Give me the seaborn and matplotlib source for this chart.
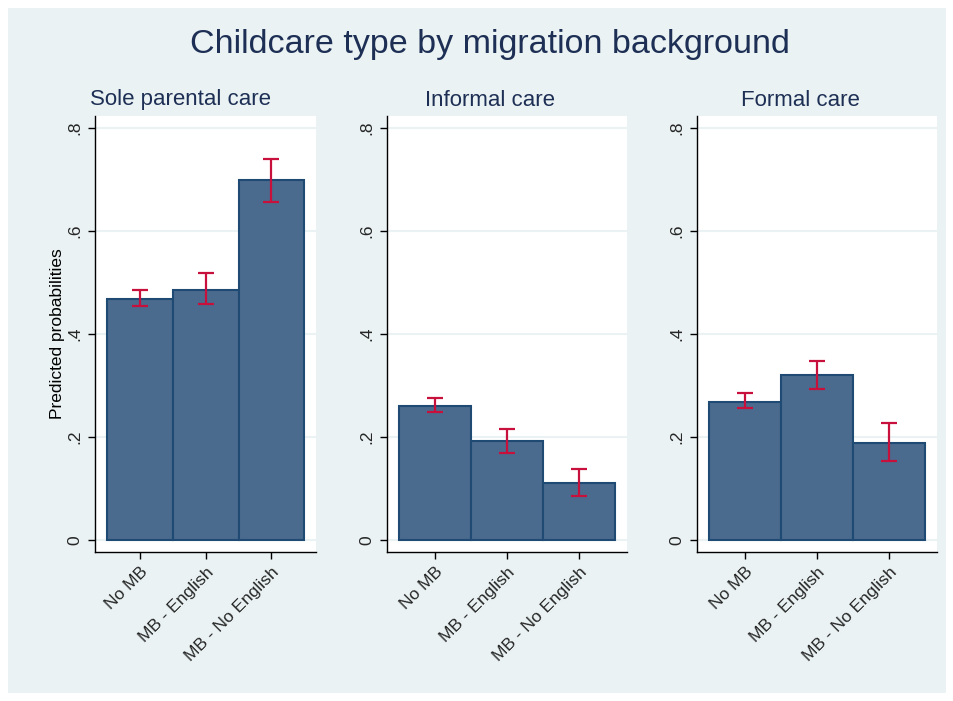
import matplotlib.pyplot as plt
import matplotlib.patches as mpatches
import seaborn as sns
import pandas as pd

# values
groups = ["No MB", "MB - English", "MB - No English"]
panels = ["Sole parental care", "Informal care", "Formal care"]

sole_prob = [0.468, 0.485, 0.699]
sole_lo = [0.454, 0.459, 0.657]
sole_hi = [0.486, 0.518, 0.740]

informal_prob = [0.260, 0.192, 0.110]
informal_lo = [0.248, 0.170, 0.085]
informal_hi = [0.276, 0.216, 0.139]

formal_prob = [0.269, 0.320, 0.188]
formal_lo = [0.256, 0.294, 0.153]
formal_hi = [0.285, 0.348, 0.227]

yticks = [0, 0.2, 0.4, 0.6, 0.8]
ytick_labels = ["0", ".2", ".4", ".6", ".8"]

bg = "#EAF2F3"
bar_fill = "#4A6B8D"
bar_edge = "#1F4A73"
ci_color = "#C8103C"
title_color = "#1E2F55"

sns.set_style("white")
plt.rcParams["font.family"] = ["Liberation Sans", "DejaVu Sans"]

fig = plt.figure(figsize=(9.54, 7.01), dpi=100, facecolor="white")
fig.patches.append(mpatches.Rectangle((8 / 954, 8 / 701), 938 / 954, 685 / 701,
                                      transform=fig.transFigure, facecolor=bg,
                                      edgecolor="none", zorder=-10))

W, H = 954, 701
# axes boxes in pixels: left, right, top, bottom
boxes = [(95, 316, 116, 552), (387, 627, 116, 552), (697, 937, 116, 552)]
# title centres (over plot region incl. tick labels)
title_x = [180, 490, 800]

data = [
    (sole_prob, sole_lo, sole_hi),
    (informal_prob, informal_lo, informal_hi),
    (formal_prob, formal_lo, formal_hi),
]

for i, (name, (prob, lo, hi), (l, r, t, b)) in enumerate(zip(panels, data, boxes)):
    ax = fig.add_axes([l / W, 1 - b / H, (r - l) / W, (b - t) / H])
    ax.set_facecolor("white")
    df = pd.DataFrame({"group": groups, "prob": prob})
    sns.barplot(data=df, x="group", y="prob", ax=ax, width=1.0, color=bar_fill,
                saturation=1, edgecolor=bar_edge, linewidth=1.5, zorder=3)
    yerr = [[p - a for p, a in zip(prob, lo)], [c - p for p, c in zip(prob, hi)]]
    ax.errorbar(range(len(groups)), prob, yerr=yerr, fmt="none", ecolor=ci_color,
                elinewidth=1.6, capsize=6, capthick=1.6, zorder=4)
    ax.set_ylim(-0.023, 0.823)
    if i == 0:
        ax.set_xlim(-0.69, 2.68)
        ax.set_ylabel("Predicted probabilities", fontsize=12.5, color="black", labelpad=2)
    else:
        ax.set_xlim(-0.67, 2.66)
        ax.set_ylabel("")
    ax.set_xlabel("")
    ax.set_yticks(yticks)
    ax.set_yticklabels(ytick_labels, rotation=90, va="center", fontsize=12.5)
    ax.set_xticks(range(len(groups)))
    ax.set_xticklabels(groups, rotation=45, ha="right", rotation_mode="anchor", fontsize=12.5)
    ax.tick_params(axis="both", direction="out", length=5, width=1, color="black",
                   left=True, bottom=True, pad=4)
    ax.grid(axis="y", color=bg, linewidth=1.5, zorder=0)
    ax.set_axisbelow(True)
    for side in ["top", "right"]:
        ax.spines[side].set_visible(False)
    for side in ["left", "bottom"]:
        ax.spines[side].set_color("black")
        ax.spines[side].set_linewidth(1)
    fig.text(title_x[i] / W, 1 - 100 / H, name, ha="center", va="center",
             fontsize=16, color=title_color)

fig.text(490 / W, 1 - 45 / H, "Childcare type by migration background",
         ha="center", va="center", fontsize=24.5, color=title_color)

plt.savefig("out.png", dpi=100, facecolor=fig.get_facecolor())
